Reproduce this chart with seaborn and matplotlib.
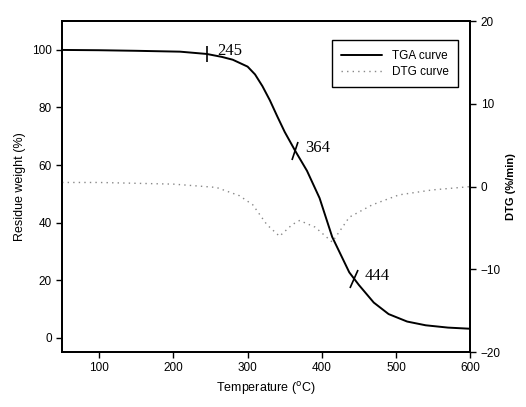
import matplotlib
matplotlib.use('Agg')
import matplotlib.pyplot as plt
import seaborn as sns
import numpy as np
from matplotlib.markers import MarkerStyle
from matplotlib.transforms import Affine2D
from matplotlib.lines import Line2D

# TGA curve (residue weight, %)
tga_temp = [50, 100, 150, 209, 245, 265, 280, 300, 310, 320, 330, 340, 350, 364, 380, 397,
            414, 437, 450, 470, 490, 515, 540, 570, 600]
tga_weight = [100, 99.9, 99.7, 99.4, 98.6, 97.6, 96.6, 94.2, 91.5, 87.4, 82.5, 76.9, 71.5, 65.0, 58.0, 48.5,
              35.0, 22.7, 18.3, 12.2, 8.2, 5.6, 4.3, 3.5, 3.1]

# DTG curve (%/min)
dtg_temp = [50, 100, 150, 200, 258, 289, 307, 326, 343, 360, 370, 391, 414, 437, 468, 504, 549, 600]
dtg_rate = [0.5, 0.5, 0.4, 0.3, -0.1, -1.1, -2.2, -4.6, -6.0, -4.6, -4.1, -4.9, -6.7, -3.7, -2.2, -1.0, -0.4, 0.0]

# marked temperatures on the TGA curve
mark_temp = [245, 364, 444]
mark_angle = [0, -20, -25]

sns.set_style('ticks')
plt.rcParams['font.family'] = ['Liberation Sans', 'DejaVu Sans']
plt.rcParams.update({'text.color': 'black', 'axes.labelcolor': 'black',
                     'xtick.color': 'black', 'ytick.color': 'black'})

fig = plt.figure(figsize=(5.26, 4.07), dpi=100)
ax = fig.add_axes([0.118, 0.135, 0.776, 0.813])
ax2 = ax.twinx()

sns.lineplot(x=tga_temp, y=tga_weight, ax=ax, color='black', linewidth=1.4)
sns.lineplot(x=dtg_temp, y=dtg_rate, ax=ax2, color='#888888', linewidth=1.0, linestyle=(0, (1, 3)))

mark_weight = np.interp(mark_temp, tga_temp, tga_weight)
for t, w, a in zip(mark_temp, mark_weight, mark_angle):
    m = MarkerStyle('|', transform=Affine2D().rotate_deg(a))
    ax.plot(t, w, marker=m, markersize=14 if t != 245 else 11, color='black', markeredgewidth=1.2)
    ax.text(t + 14, w + 1, str(t), family=['Liberation Serif'], fontsize=12, va='center', ha='left')

ax.set_xlim(50, 600)
ax.set_ylim(-5, 110)
ax2.set_ylim(-20, 20)
ax.set_xticks([100, 200, 300, 400, 500, 600])
ax.set_yticks([0, 20, 40, 60, 80, 100])
ax2.set_yticks([-20, -10, 0, 10, 20])

ax.set_xlabel('Temperature ($^{\\rm o}$C)', fontsize=9)
ax.set_ylabel('Residue weight (%)', fontsize=9)
ax2.set_ylabel('DTG (%/min)', fontsize=8, fontweight='bold')

for a in (ax, ax2):
    a.tick_params(labelsize=8.5, length=4, width=1, direction='out', colors='black')
    for s in a.spines.values():
        s.set_linewidth(1.3)
        s.set_color('black')
        s.set_visible(True)

handles = [Line2D([], [], color='black', linewidth=1.4),
           Line2D([], [], color='#888888', linewidth=1.0, linestyle=(0, (1, 3)))]
leg = ax.legend(handles, ['TGA curve', 'DTG curve'], loc='upper right', fontsize=8.5,
                frameon=True, fancybox=False, edgecolor='black', framealpha=1,
                bbox_to_anchor=(0.985, 0.96), handlelength=3.5, borderpad=0.8,
                labelspacing=0.35)
leg.get_frame().set_linewidth(1)

fig.savefig('out.png', dpi=100)
